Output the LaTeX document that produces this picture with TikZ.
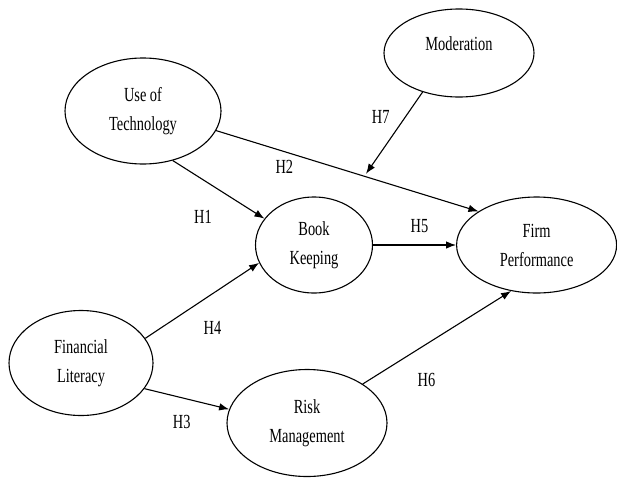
\documentclass[tikz,border=0pt]{standalone}
\usepackage{fontspec}
\newfontfamily\diagfont{Liberation Serif}[FakeStretch=0.72]
\usetikzlibrary{positioning,arrows.meta,shapes.geometric}

\begin{document}
\begin{tikzpicture}[x=1pt,y=-1pt,font=\diagfont\fontsize{20}{29}\selectfont,
oval/.style={ellipse,draw,line width=1.1pt,inner sep=0pt,align=center},
edge/.style={-{Latex[length=10pt,width=7.5pt]},line width=1.1pt}]

\useasboundingbox (0,0) rectangle (617,479);

% nodes
\node[oval,minimum width=117pt,minimum height=96pt] (book) at (314,245) {Book\\Keeping};
\node[oval,right=83pt of book,minimum width=160pt,minimum height=96pt] (firm) {Firm\\Performance};
\node[oval,minimum width=156pt,minimum height=106pt] (tech) at (143,111) {Use of\\Technology};
\node[oval,minimum width=150pt,minimum height=88pt] (mod) at (459,53) {\raisebox{2.5pt}[0pt][0pt]{Moderation}};
\node[oval,minimum width=144pt,minimum height=105pt] (fin) at (81,363) {Financial\\Literacy};
\node[oval,minimum width=160pt,minimum height=107pt] (risk) at (307,423) {Risk\\Management};

% edges
\draw[edge] (tech.-59.5) -- (book.152) node[pos=0.33,yshift=-37pt] (h1) {H1};
\draw[edge] (tech.-15.3) -- (firm.150.4) coordinate[pos=0.565] (cross)
    node[pos=0.26,yshift=-15pt] (h2) {H2};
\draw[edge,shorten >=3pt] (mod.227) -- (cross) node[pos=0.29,xshift=-25pt] (h7) {H7};
\draw[edge] (book) -- (firm) node[pos=0.56,yshift=19pt] (h5) {H5};
\draw[edge] (fin.21.8) -- (book.198) node[pos=0.59,yshift=-34pt] (h4) {H4};
\draw[edge] (fin.-22.6) -- (risk.170.4) node[pos=0.44,yshift=-24pt] (h3) {H3};
\draw[edge] (risk.35.7) -- (firm.241) node[pos=0.43,yshift=-36pt] (h6) {H6};

\end{tikzpicture}
\end{document}
